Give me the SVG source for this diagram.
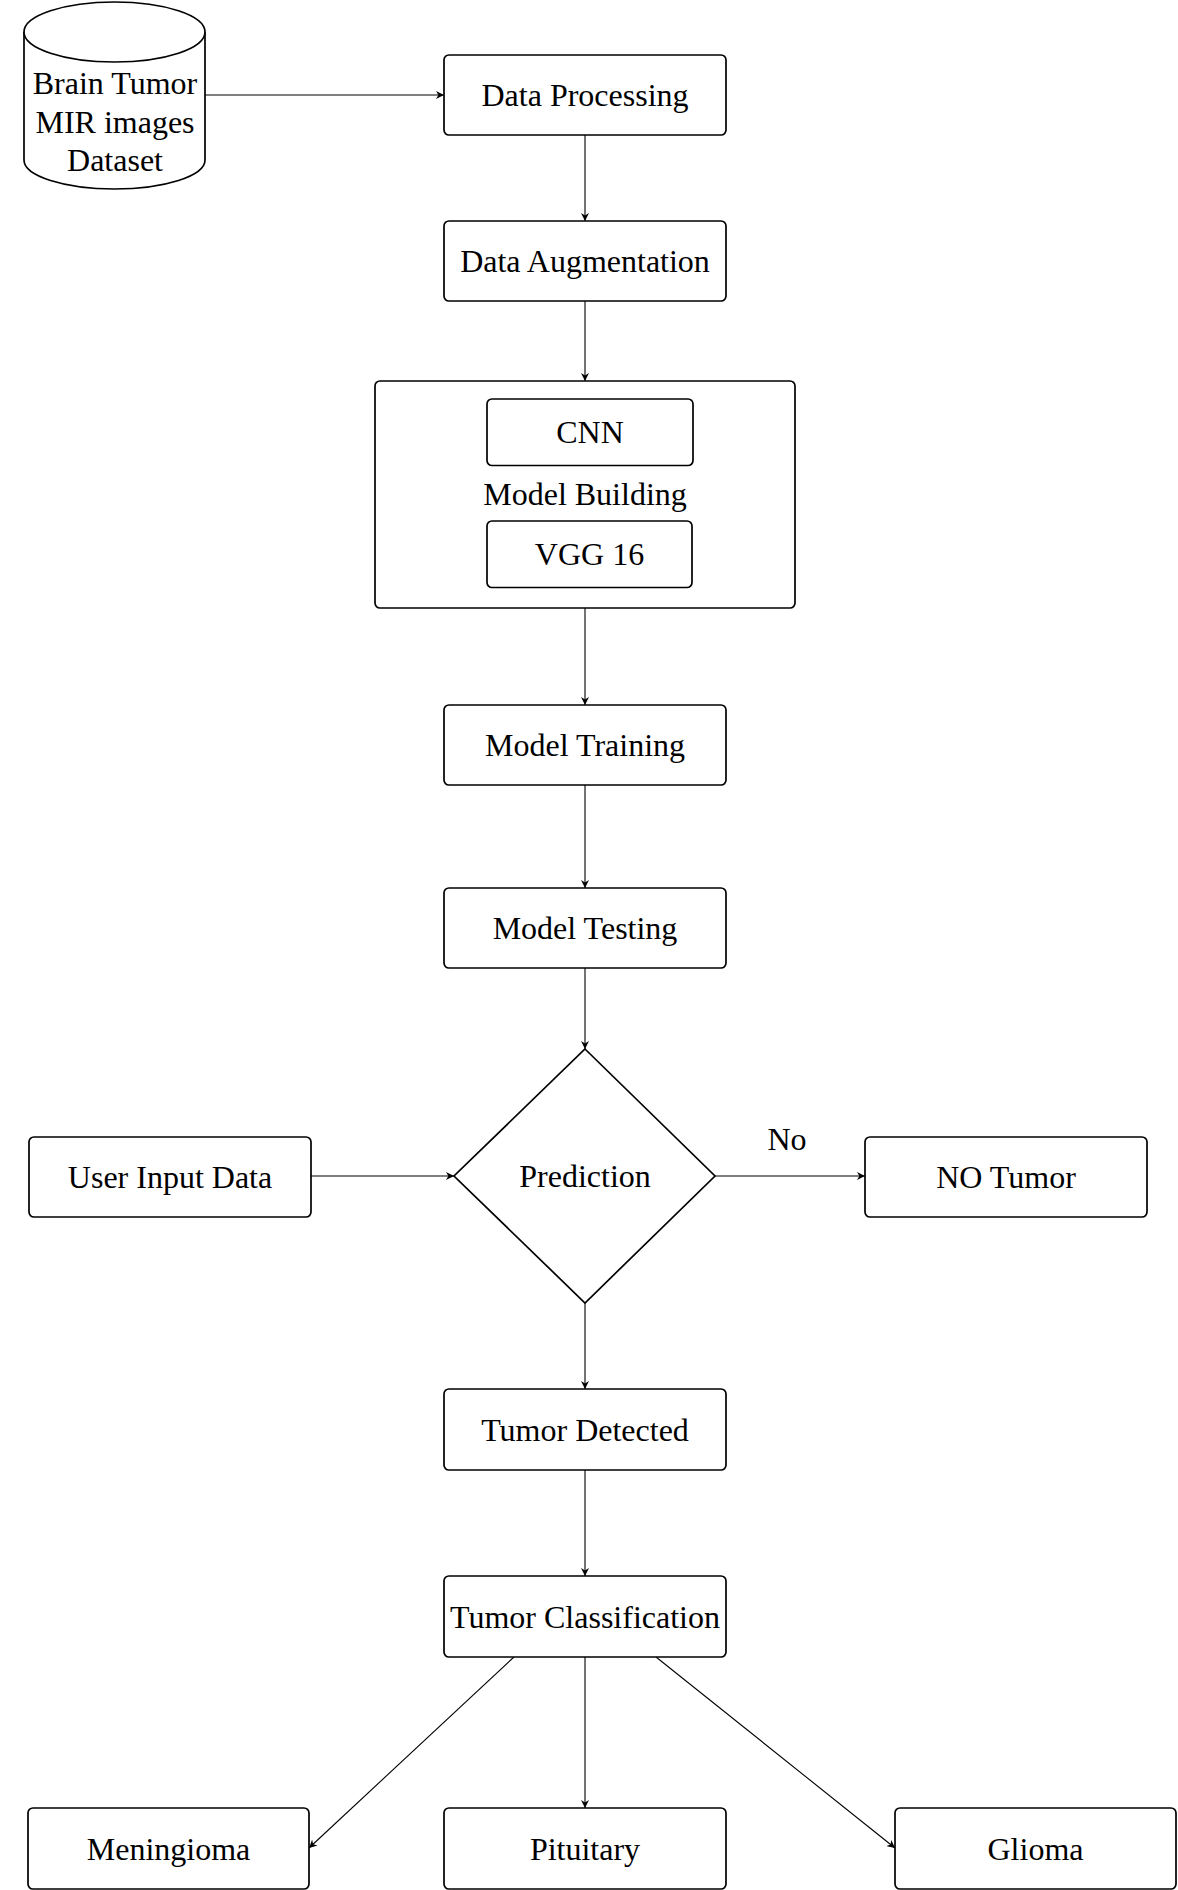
<svg xmlns="http://www.w3.org/2000/svg" width="1178" height="1890" viewBox="0 0 1178 1890">
<style>
.box{fill:#fff;stroke:#000;stroke-width:1.7}
.t{font-family:"Liberation Serif","Times New Roman",serif;font-size:32px;fill:#000;text-anchor:middle}
.c{fill:none;stroke:#000;stroke-width:1.1}
</style>
<defs>
<marker id="arr" viewBox="0 0 10 10" refX="10" refY="5" markerWidth="8" markerHeight="8" markerUnits="userSpaceOnUse" orient="auto">
<path d="M0,0 L10,5 L0,10 L3,5 z" fill="#000"/>
</marker>
</defs>
<rect width="1178" height="1890" fill="#fff"/>
<g id="connectors">
<line class="c" x1="205" y1="95" x2="444" y2="95" marker-end="url(#arr)"/>
<line class="c" x1="585" y1="135" x2="585" y2="221" marker-end="url(#arr)"/>
<line class="c" x1="585" y1="301" x2="585" y2="381" marker-end="url(#arr)"/>
<line class="c" x1="585" y1="608" x2="585" y2="705" marker-end="url(#arr)"/>
<line class="c" x1="585" y1="785" x2="585" y2="888" marker-end="url(#arr)"/>
<line class="c" x1="585" y1="968" x2="585" y2="1049" marker-end="url(#arr)"/>
<line class="c" x1="311" y1="1176" x2="454" y2="1176" marker-end="url(#arr)"/>
<line class="c" x1="715" y1="1176" x2="865" y2="1176" marker-end="url(#arr)"/>
<text class="t" x="787" y="1150">No</text>
<line class="c" x1="585" y1="1303" x2="585" y2="1389" marker-end="url(#arr)"/>
<line class="c" x1="585" y1="1470" x2="585" y2="1576" marker-end="url(#arr)"/>
<line class="c" x1="514" y1="1657" x2="309" y2="1848" marker-end="url(#arr)"/>
<line class="c" x1="585" y1="1657" x2="585" y2="1808" marker-end="url(#arr)"/>
<line class="c" x1="656" y1="1657" x2="895" y2="1848" marker-end="url(#arr)"/>
</g>
<g id="dataset">
<path class="box" d="M24,32 A90.5,30 0 0 1 205,32 L205,160 A90.5,29 0 0 1 24,160 Z"/>
<path class="box" fill="none" d="M24,32 A90.5,30 0 0 0 205,32"/>
<text class="t" x="115" y="94">Brain Tumor</text>
<text class="t" x="115" y="132.5">MIR images</text>
<text class="t" x="115" y="171">Dataset</text>
</g>
<g id="data-processing">
<rect class="box" x="444" y="55" width="282" height="80" rx="5"/>
<text class="t" x="585" y="106">Data Processing</text>
</g>
<g id="data-augmentation">
<rect class="box" x="444" y="221" width="282" height="80" rx="5"/>
<text class="t" x="585" y="272">Data Augmentation</text>
</g>
<g id="model-building">
<rect class="box" x="375" y="381" width="420" height="227" rx="5"/>
<text class="t" x="585" y="505">Model Building</text>
</g>
<g id="cnn">
<rect class="box" x="487" y="399" width="206" height="66.5" rx="5"/>
<text class="t" x="590" y="443">CNN</text>
</g>
<g id="vgg16">
<rect class="box" x="487" y="521" width="205" height="66.5" rx="5"/>
<text class="t" x="589.5" y="565">VGG 16</text>
</g>
<g id="model-training">
<rect class="box" x="444" y="705" width="282" height="80" rx="5"/>
<text class="t" x="585" y="756">Model Training</text>
</g>
<g id="model-testing">
<rect class="box" x="444" y="888" width="282" height="80" rx="5"/>
<text class="t" x="585" y="939">Model Testing</text>
</g>
<g id="prediction">
<polygon class="box" points="585,1049 715,1176 585,1303 454,1176"/>
<text class="t" x="585" y="1187">Prediction</text>
</g>
<g id="user-input">
<rect class="box" x="29" y="1137" width="282" height="80" rx="5"/>
<text class="t" x="170" y="1188">User Input Data</text>
</g>
<g id="no-tumor">
<rect class="box" x="865" y="1137" width="282" height="80" rx="5"/>
<text class="t" x="1006" y="1188">NO Tumor</text>
</g>
<g id="tumor-detected">
<rect class="box" x="444" y="1389" width="282" height="81" rx="5"/>
<text class="t" x="585" y="1441">Tumor Detected</text>
</g>
<g id="tumor-classification">
<rect class="box" x="444" y="1576" width="282" height="81" rx="5"/>
<text class="t" x="585" y="1628">Tumor Classification</text>
</g>
<g id="meningioma">
<rect class="box" x="28" y="1808" width="281" height="81" rx="5"/>
<text class="t" x="168.5" y="1860">Meningioma</text>
</g>
<g id="pituitary">
<rect class="box" x="444" y="1808" width="282" height="81" rx="5"/>
<text class="t" x="585" y="1860">Pituitary</text>
</g>
<g id="glioma">
<rect class="box" x="895" y="1808" width="281" height="81" rx="5"/>
<text class="t" x="1035.5" y="1860">Glioma</text>
</g>
</svg>
